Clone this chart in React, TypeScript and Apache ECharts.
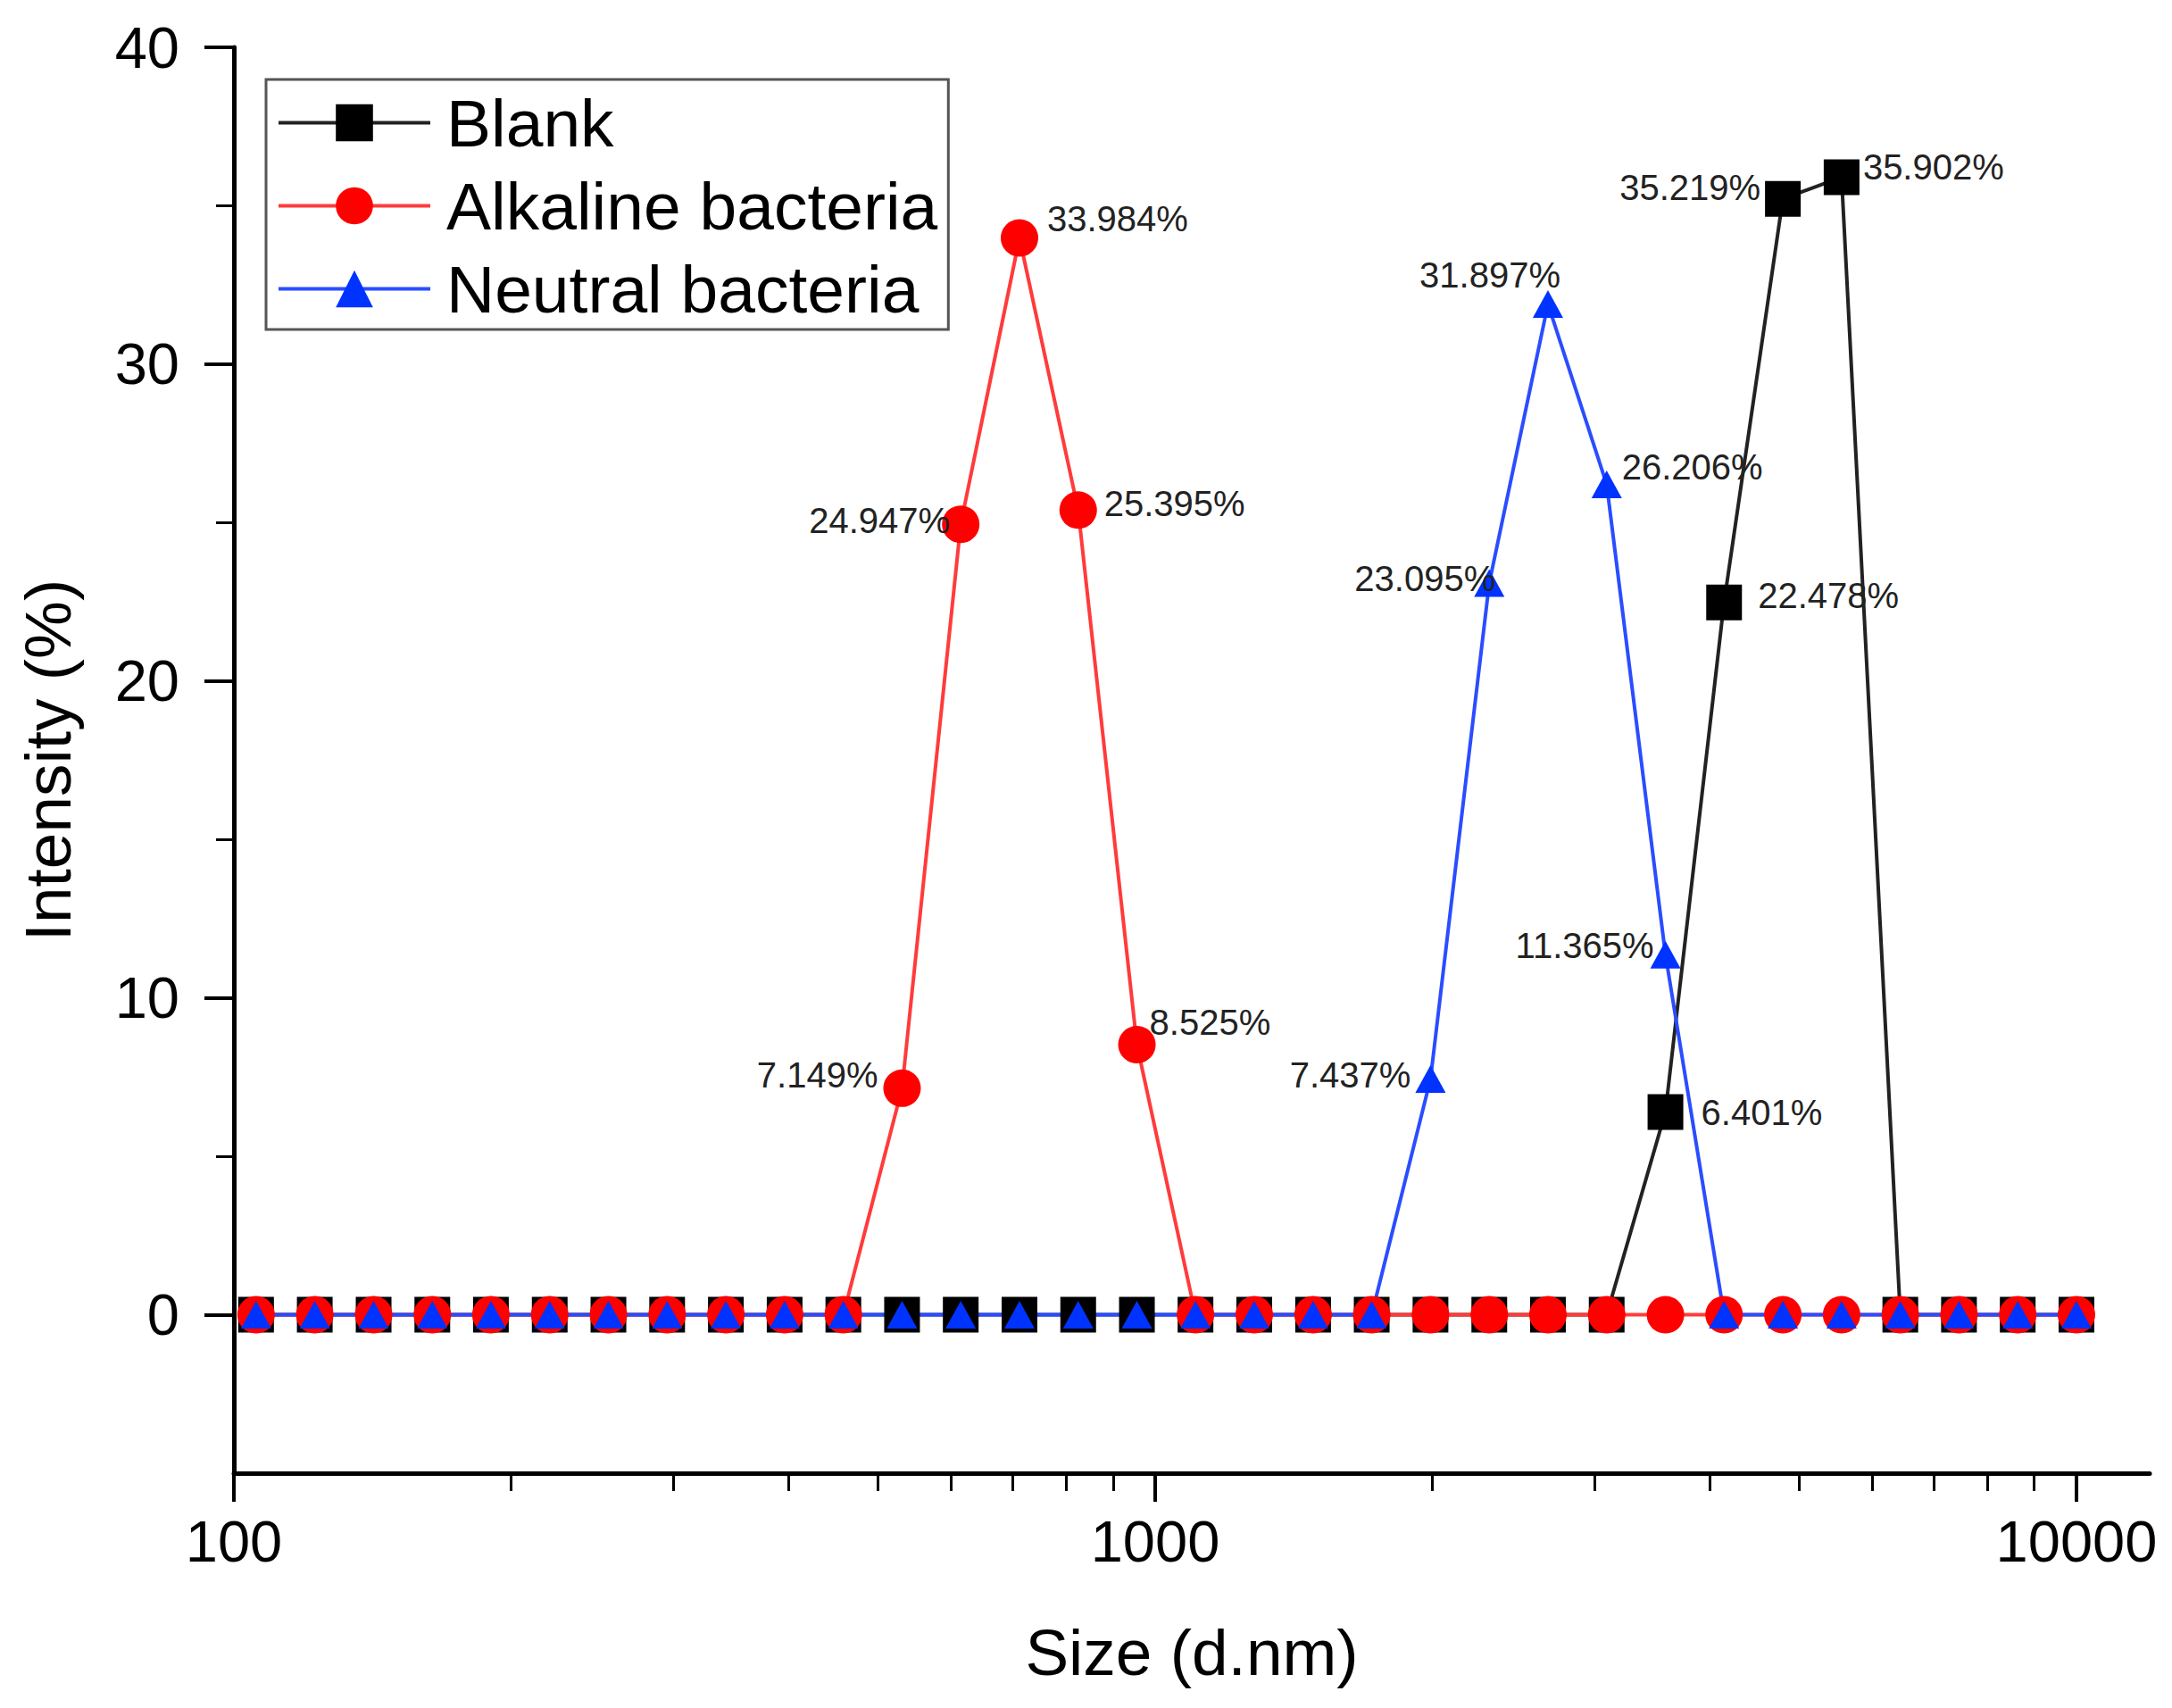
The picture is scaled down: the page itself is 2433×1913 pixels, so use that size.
import React, { useEffect, useRef } from "react";
import * as echarts from "echarts";

// Particle size bins (d.nm)
const SIZES = [
  105.7, 122.4, 141.8, 164.2, 190.1, 220.2, 255.0, 295.3, 342.0, 396.1, 458.7,
  531.2, 615.1, 712.4, 825.0, 955.4, 1106, 1281, 1484, 1718, 1990, 2305, 2669,
  3091, 3580, 4145, 4801, 5560, 6439, 7456, 8635, 10000,
];

// Intensity (%) per bin
const BLANK = [
  0, 0, 0, 0, 0, 0, 0, 0, 0, 0, 0, 0, 0, 0, 0, 0, 0, 0, 0, 0, 0, 0, 0, 0,
  6.401, 22.478, 35.219, 35.902, 0, 0, 0, 0,
];
const ALKALINE = [
  0, 0, 0, 0, 0, 0, 0, 0, 0, 0, 0, 7.149, 24.947, 33.984, 25.395, 8.525, 0, 0,
  0, 0, 0, 0, 0, 0, 0, 0, 0, 0, 0, 0, 0, 0,
];
const NEUTRAL = [
  0, 0, 0, 0, 0, 0, 0, 0, 0, 0, 0, 0, 0, 0, 0, 0, 0, 0, 0, 0, 7.437, 23.095,
  31.897, 26.206, 11.365, 0, 0, 0, 0, 0, 0, 0,
];

const SERIES_NAMES = ["Blank", "Alkaline bacteria", "Neutral bacteria"];
const X_MAJOR = [100, 1000, 10000];
const X_MINOR = [200, 300, 400, 500, 600, 700, 800, 900, 2000, 3000, 4000, 5000, 6000, 7000, 8000, 9000];
const Y_MAJOR = [0, 10, 20, 30, 40];
const Y_MINOR = [5, 15, 25, 35];

// label placement (style): index -> [align, dx, dy]
const LABEL_BLANK: Record<number, [string, number, number]> = {
  24: ["left", 40, 1],
  25: ["left", 38, -8],
  26: ["right", -25, -13],
  27: ["left", 24, -11],
};
const LABEL_ALKALINE: Record<number, [string, number, number]> = {
  11: ["right", -27, -15],
  12: ["right", -12, -4],
  13: ["left", 31, -22],
  14: ["left", 29, -7],
  15: ["left", 14, -25],
};
const LABEL_NEUTRAL: Record<number, [string, number, number]> = {
  20: ["right", -22, -5],
  21: ["right", 7, -5],
  22: ["right", 14, -33],
  23: ["left", 17, -20],
  24: ["right", -13, -10],
};

const FONT = "'Liberation Sans', Arial, Helvetica, sans-serif";

function buildData(values: number[], labels: Record<number, [string, number, number]>) {
  return values.map((v, i) => {
    const item: any = { value: [Math.log10(SIZES[i]), v] };
    const lab = labels[i];
    if (lab) {
      item.label = {
        show: true,
        position: "inside",
        align: lab[0],
        verticalAlign: "middle",
        offset: [lab[1], lab[2]],
        formatter: v.toFixed(3) + "%",
        color: "#222",
        fontSize: 40,
        fontFamily: FONT,
        textBorderWidth: 0,
        textBorderColor: "transparent",
      };
    }
    return item;
  });
}

export default function App() {
  const ref = useRef<HTMLDivElement>(null);
  useEffect(() => {
    if (!ref.current) return;
    const chart = echarts.init(ref.current, null, { renderer: "svg" });
    const xMin = 2;
    const xMax = 4.0795;
    const option: any = {
      animation: false,
      backgroundColor: "#fff",
      textStyle: { fontFamily: FONT },
      grid: { left: 262, right: 25, top: 53, bottom: 263, containLabel: false },
      legend: {
        orient: "vertical",
        left: 298,
        top: 89,
        data: SERIES_NAMES,
        itemWidth: 170,
        itemHeight: 52,
        itemGap: 18,
        padding: [11, 12, 8, 12],
        borderColor: "#555",
        borderWidth: 3,
        borderRadius: 0,
        backgroundColor: "#fff",
        lineStyle: { width: 4 },
        textStyle: { fontSize: 75, lineHeight: 74, color: "#000", fontFamily: FONT, padding: [0, 0, 0, 13] },
      },
      xAxis: [
        {
          type: "value",
          min: xMin,
          max: xMax,
          position: "bottom",
          name: "Size (d.nm)",
          nameLocation: "middle",
          nameGap: 164,
          nameTextStyle: { fontSize: 73, color: "#000", fontFamily: FONT },
          axisLine: { show: true, onZero: false, lineStyle: { color: "#000", width: 5 } },
          axisTick: {
            show: true,
            inside: false,
            length: 32,
            lineStyle: { color: "#000", width: 4 },
            customValues: X_MAJOR.map((v) => Math.log10(v)),
          },
          axisLabel: {
            show: true,
            fontSize: 65,
            color: "#000",
            margin: 44,
            fontFamily: FONT,
            customValues: X_MAJOR.map((v) => Math.log10(v)),
            formatter: (v: number) => String(Math.round(Math.pow(10, v))),
          },
          splitLine: { show: false },
        },
        {
          type: "value",
          min: xMin,
          max: xMax,
          position: "bottom",
          axisLine: { show: false, onZero: false },
          axisLabel: { show: false },
          axisTick: {
            show: true,
            inside: false,
            length: 20,
            lineStyle: { color: "#000", width: 3 },
            customValues: X_MINOR.map((v) => Math.log10(v)),
          },
          splitLine: { show: false },
        },
      ],
      yAxis: [
        {
          type: "value",
          min: -5,
          max: 40,
          position: "left",
          name: "Intensity (%)",
          nameLocation: "middle",
          nameGap: 172,
          nameTextStyle: { fontSize: 73, color: "#000", fontFamily: FONT },
          axisLine: { show: true, onZero: false, lineStyle: { color: "#000", width: 5 } },
          axisTick: {
            show: true,
            inside: false,
            length: 33,
            lineStyle: { color: "#000", width: 4 },
            customValues: Y_MAJOR,
          },
          axisLabel: {
            show: true,
            fontSize: 65,
            color: "#000",
            margin: 61,
            fontFamily: FONT,
            customValues: Y_MAJOR,
          },
          splitLine: { show: false },
        },
        {
          type: "value",
          min: -5,
          max: 40,
          position: "left",
          axisLine: { show: false, onZero: false },
          axisLabel: { show: false },
          axisTick: {
            show: true,
            inside: false,
            length: 20,
            lineStyle: { color: "#000", width: 3 },
            customValues: Y_MINOR,
          },
          splitLine: { show: false },
        },
      ],
      series: [
        {
          name: SERIES_NAMES[0],
          type: "line",
          xAxisIndex: 0,
          yAxisIndex: 0,
          symbol: "rect",
          symbolSize: 40,
          itemStyle: { color: "#000" },
          lineStyle: { color: "#222", width: 4 },
          data: buildData(BLANK, LABEL_BLANK),
        },
        {
          name: SERIES_NAMES[1],
          type: "line",
          xAxisIndex: 0,
          yAxisIndex: 0,
          symbol: "circle",
          symbolSize: 42,
          itemStyle: { color: "#ff0000" },
          lineStyle: { color: "#ff3b3b", width: 4 },
          data: buildData(ALKALINE, LABEL_ALKALINE),
        },
        {
          name: SERIES_NAMES[2],
          type: "line",
          xAxisIndex: 0,
          yAxisIndex: 0,
          symbol: "triangle",
          symbolSize: [34, 31],
          itemStyle: { color: "#0033ff" },
          lineStyle: { color: "#2a4dff", width: 4 },
          data: buildData(NEUTRAL, LABEL_NEUTRAL),
        },
      ],
    };
    chart.setOption(option);
    return () => chart.dispose();
  }, []);
  return (
    <div
      ref={ref}
      style={{ position: "fixed", left: 0, top: 0, width: 2433, height: 1913, background: "#fff" }}
    />
  );
}
